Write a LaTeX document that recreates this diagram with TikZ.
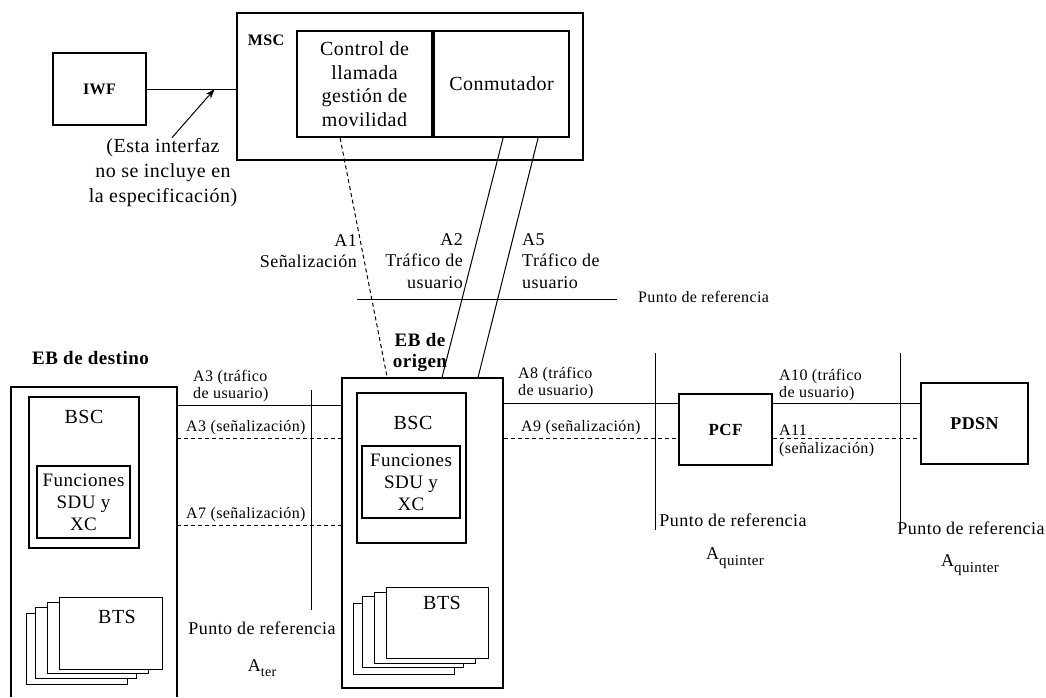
\documentclass[tikz,border=0pt]{standalone}
\usepackage{fontspec}
\setmainfont{Liberation Serif}[LetterSpace=2.5]
\usetikzlibrary{arrows.meta,calc}
\begin{document}
\begin{tikzpicture}[x=1pt,y=-1pt,
  thickbox/.style={draw, line width=1.8pt, inner sep=0pt, align=center},
  thinbox/.style={draw, line width=1.2pt, inner sep=0pt, align=center},
  midbox/.style={draw, line width=1.5pt, inner sep=0pt, align=center},
  btsbox/.style={draw, fill=white, line width=1.3pt, inner sep=0pt, minimum width=101pt, minimum height=71pt, anchor=south west},
  lbl/.style={inner sep=0pt},
  mainfont/.style={font=\fontsize{20}{23.5}\selectfont},
  funcfont/.style={font=\fontsize{19}{22}\selectfont},
  smallfont/.style={font=\fontsize{16}{17.5}\selectfont},
  medfont/.style={font=\fontsize{18}{21.5}\selectfont},
  boldfont/.style={font=\fontsize{16}{18}\selectfont\bfseries},
  ebfont/.style={font=\fontsize{19}{21}\selectfont\bfseries},
  conn/.style={line width=1pt},
  sig/.style={line width=1pt, dash pattern=on 4pt off 3pt},
  refline/.style={line width=1pt}
]
\useasboundingbox (0,0) rectangle (1046,697);

% ---------------- MSC and IWF ----------------
\node[thickbox, boldfont, minimum width=93pt, minimum height=72pt] (iwf) at (99.5,89) {IWF};
\node[thickbox, minimum width=346pt, minimum height=147pt] (msc) at (410,86.5) {};
\node[lbl, boldfont] (msclbl) at (266,40) {MSC};
\node[thickbox, mainfont, minimum width=135pt, minimum height=106pt] (ctrl) at (364.5,84) {Control de\\llamada\\gestión de\\movilidad};
\node[thickbox, mainfont, minimum width=135pt, minimum height=106pt] (conm) at (501.5,84) {Conmutador};

\node[lbl, font=\fontsize{20}{25}\selectfont, align=center] (note) at (163,173) {(Esta interfaz\\no se incluye en\\la especificación)};
\draw[conn] (iwf.east) -- (iwf.east -| msc.west);
\coordinate (arrtip) at ($(iwf.east)!0.76!(iwf.east -| msc.west)$);
\draw[conn, -{Stealth[length=10pt,width=7pt]}] ([xshift=9pt,yshift=1pt]note.north) -- (arrtip);

% ---------------- EB de destino ----------------
\path node[inner sep=0pt, minimum width=166pt, minimum height=310pt] (ebd) at (94,542) {};
\draw[line width=1.8pt] (ebd.south west) -- (ebd.north west) -- (ebd.north east) -- (ebd.south east);
\node[lbl, ebfont, anchor=west] (ebdlbl) at (32,358) {EB de destino};
\node[thickbox, minimum width=110pt, minimum height=151pt] (bscd) at (84,472.5) {};
\node[lbl, mainfont] (bscdlbl) at (84,417) {BSC};
\node[thinbox, funcfont, minimum width=93pt, minimum height=72pt] (fund) at (83.5,502) {Funciones\\SDU y\\XC};
\node[btsbox] (btsd1) at (26,685) {};
\node[btsbox] (btsd2) at (35,679) {};
\node[btsbox] (btsd3) at (47,674) {};
\node[btsbox, minimum width=103pt, minimum height=72pt] (btsd4) at (59,670) {};
\node[lbl, mainfont] (btsdlbl) at (117,617) {BTS};

% ---------------- EB de origen ----------------
\node[thickbox, minimum width=161pt, minimum height=310pt] (ebo) at (422.5,533) {};
\node[lbl, ebfont, align=center] (ebolbl) at (420,352) {EB de\\origen};
\node[thickbox, minimum width=109pt, minimum height=150pt] (bsco) at (411.5,468) {};
\node[lbl, mainfont] (bscolbl) at (413,423) {BSC};
\node[thinbox, funcfont, minimum width=98pt, minimum height=72pt] (funo) at (411,482) {Funciones\\SDU y\\XC};
\node[btsbox] (btso1) at (353,675) {};
\node[btsbox] (btso2) at (362,668) {};
\node[btsbox] (btso3) at (374,664) {};
\node[btsbox, minimum width=102pt] (btso4) at (386,659) {};
\node[lbl, mainfont] (btsolbl) at (442,603) {BTS};

% ---------------- PCF and PDSN ----------------
\node[midbox, font=\fontsize{17}{19}\selectfont\bfseries, minimum width=93pt, minimum height=71pt] (pcf) at (725.5,429.5) {PCF};
\node[midbox, font=\fontsize{18}{20}\selectfont\bfseries, minimum width=107pt, minimum height=81pt] (pdsn) at (974.5,423.5) {PDSN};

% ---------------- MSC to EB de origen ----------------
\draw[sig] ([xshift=44pt]ctrl.south west) -- ([xshift=46pt]ebo.north west);
\draw[conn] ([xshift=70pt]conm.south west) -- ([xshift=101pt]ebo.north west);
\draw[conn] ([xshift=105pt]conm.south west) -- ([xshift=137pt]ebo.north west);
\node[lbl, medfont, align=right, anchor=east] (a1) at (357,251) {A1\\Señalización};
\node[lbl, medfont, align=right, anchor=east] (a2) at (463,261) {A2\\Tráfico de\\usuario};
\node[lbl, medfont, align=left, anchor=west] (a5) at (522,261) {A5\\Tráfico de\\usuario};
\draw[refline] (357,299) -- (617,299);
\node[lbl, smallfont, anchor=west] (ptop) at (638,297) {Punto de referencia};

% ---------------- horizontal interfaces ----------------
\coordinate (yA3t) at (0,405);
\coordinate (yA3s) at (0,438);
\coordinate (yA7) at (0,525);
\coordinate (yA8) at (0,403);
\coordinate (yA9) at (0,438.5);
\draw[conn] (ebd.east |- yA3t) -- (ebo.west |- yA3t);
\draw[sig] (ebd.east |- yA3s) -- (ebo.west |- yA3s);
\draw[sig] (ebd.east |- yA7) -- (ebo.west |- yA7);
\draw[conn] (ebo.east |- yA8) -- (pcf.west |- yA8);
\draw[sig] (ebo.east |- yA9) -- (pcf.west |- yA9);
\draw[conn] (pcf.east |- yA8) -- (pdsn.west |- yA8);
\draw[sig] (pcf.east |- yA9) -- (pdsn.west |- yA9);

\node[lbl, smallfont, align=left, anchor=west] (la3t) at (193,386) {A3 (tráfico\\de usuario)};
\node[lbl, smallfont, anchor=west] (la3s) at (186,428) {A3 (señalización)};
\node[lbl, smallfont, anchor=west] (la7) at (186,515) {A7 (señalización)};
\node[lbl, smallfont, align=left, anchor=west] (la8) at (518,383) {A8 (tráfico\\de usuario)};
\node[lbl, smallfont, anchor=west] (la9) at (521,428) {A9 (señalización)};
\node[lbl, smallfont, align=left, anchor=west] (la10) at (779,385) {A10 (tráfico\\de usuario)};
\node[lbl, smallfont, align=left, anchor=west] (la11) at (779,441) {A11\\(señalización)};

% ---------------- reference points ----------------
\draw[refline] (311,390) -- (311,610);
\node[lbl, medfont] (pref1) at (262,628) {Punto de referencia};
\node[lbl, medfont] (ater) at (262,668) {A\raisebox{-5pt}{\fontsize{14}{14}\selectfont ter}};
\draw[refline] (655,353) -- (655,530);
\node[lbl, medfont] (pref2) at (733,520) {Punto de referencia};
\node[lbl, medfont] (aq2) at (735,558) {A\raisebox{-6pt}{\fontsize{15}{15}\selectfont quinter}};
\draw[refline] (900,353) -- (900,530);
\node[lbl, medfont] (pref3) at (971,528) {Punto de referencia};
\node[lbl, medfont] (aq3) at (970,565) {A\raisebox{-6pt}{\fontsize{15}{15}\selectfont quinter}};
\end{tikzpicture}
\end{document}
